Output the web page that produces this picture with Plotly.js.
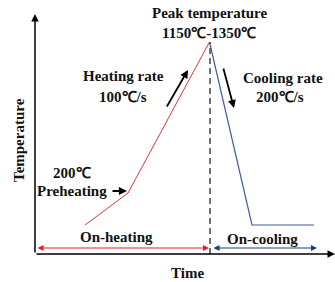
<!DOCTYPE html>
<html>
<head>
<meta charset="utf-8">
<script src="https://cdn.plot.ly/plotly-3.0.1.min.js"></script>
<style>html,body{margin:0;padding:0;background:#fff;}#chart{width:335px;height:282px;}</style>
</head>
<body>
<div id="chart"></div>
<script>
// Schematic thermal cycle (arbitrary time units, schematic temperature units)
const heatTime = [50, 93, 174.5];
const heatTemp = [29, 61, 212];
const coolTime = [174.5, 217, 279];
const coolTemp = [212, 29, 29];
const peakTime = 175;
const peakTemp = 212;

const xTitle = 'Time';
const yTitle = 'Temperature';
const peakLabel = 'Peak temperature';
const peakRange = '1150℃-1350℃';
const heatRateLabel = 'Heating rate';
const heatRateValue = '100℃/s';
const coolRateLabel = 'Cooling rate';
const coolRateValue = '200℃/s';
const preheatTemp = '200℃';
const preheatLabel = 'Preheating';
const onHeating = 'On-heating';
const onCooling = 'On-cooling';

const F = {family: '"Liberation Serif", "Times New Roman", serif', size: 15, color: '#111'};
function txt(x, y, text, extra) {
  return Object.assign({x: x, y: y, xref: 'x', yref: 'y', text: '<b>' + text + '</b>', showarrow: false,
    font: F, xanchor: 'center', yanchor: 'middle'}, extra || {});
}
function arr(x0, y0, x1, y1, color, width, both, size) {
  return {x: x1, y: y1, ax: x0, ay: y0, xref: 'x', yref: 'y', axref: 'x', ayref: 'y', text: '',
    showarrow: true, arrowhead: 2, arrowsize: size || 1, arrowwidth: width, arrowcolor: color,
    arrowside: both ? 'end+start' : 'end', startarrowhead: 2, startarrowsize: size || 1, standoff: 0, startstandoff: 0};
}

const traces = [
  {x: heatTime, y: heatTemp, mode: 'lines', line: {color: '#e0363a', width: 1}, hoverinfo: 'skip', cliponaxis: false},
  {x: coolTime, y: coolTemp, mode: 'lines', line: {color: '#4558a3', width: 1.2}, hoverinfo: 'skip', cliponaxis: false},
  {x: [peakTime, peakTime], y: [0, peakTemp], mode: 'lines', line: {color: '#444', width: 1.5, dash: '6px,4px'}, hoverinfo: 'skip', cliponaxis: false}
];

const annotations = [
  arr(0, 0, 300, 0, '#000', 1.5, false, 1),
  arr(0, 0, 0, 240, '#000', 1.5, false, 1),
  arr(1, 6, 174, 6, '#e0202a', 1, true, 1.2),
  arr(177, 6, 282, 6, '#1f3d80', 1, true, 1.2),
  arr(131, 146, 153, 184, '#000', 1.8, false, 0.9),
  arr(188, 187, 199, 146, '#000', 1.8, false, 0.9),
  arr(76, 63, 92, 63, '#000', 1.8, false, 0.9),
  txt(174, 241, peakLabel),
  txt(174, 221, peakRange),
  txt(88, 178, heatRateLabel),
  txt(88, 157, heatRateValue),
  txt(248, 176, coolRateLabel),
  txt(245, 157, coolRateValue),
  txt(37, 81, preheatTemp),
  txt(37, 63, preheatLabel),
  txt(81, 17, onHeating),
  txt(227, 15, onCooling),
  txt(152, -19, xTitle),
  txt(-16, 114, yTitle, {textangle: -90})
];

const layout = {
  width: 335, height: 282,
  margin: {l: 0, r: 0, t: 0, b: 0, pad: 0},
  paper_bgcolor: '#fff', plot_bgcolor: '#fff',
  showlegend: false,
  xaxis: {range: [-35, 300], visible: false, fixedrange: true},
  yaxis: {range: [-28, 254], visible: false, fixedrange: true},
  annotations: annotations
};

Plotly.newPlot('chart', traces, layout, {displayModeBar: false, staticPlot: true});
</script>
</body>
</html>
